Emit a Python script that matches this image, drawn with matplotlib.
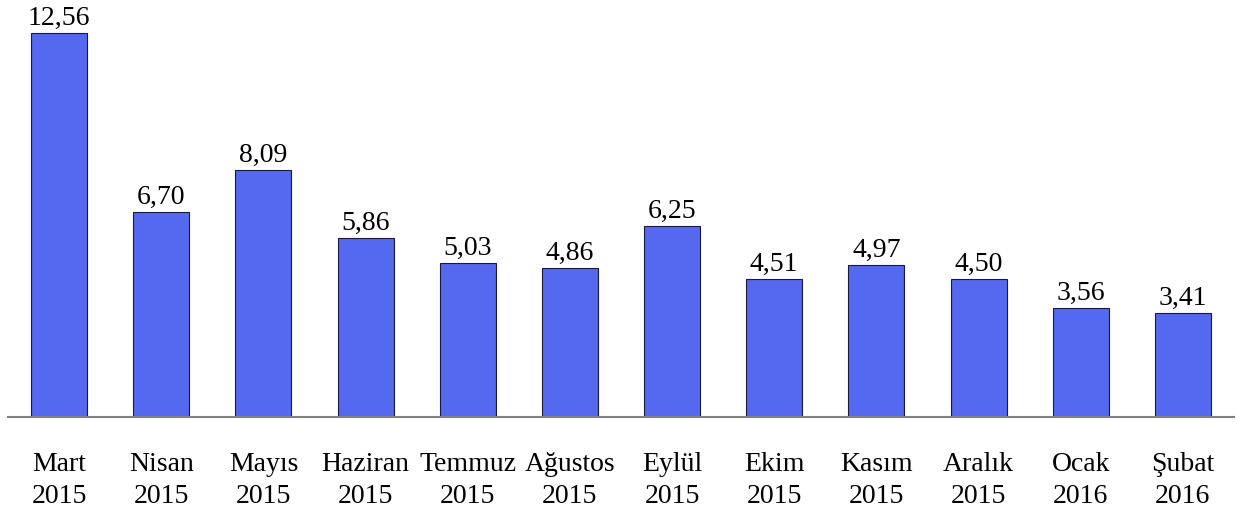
import matplotlib
matplotlib.use("Agg")
import matplotlib.pyplot as plt

months = ["Mart", "Nisan", "Mayıs", "Haziran", "Temmuz", "Ağustos", "Eylül",
          "Ekim", "Kasım", "Aralık", "Ocak", "Şubat"]
years = ["2015"] * 10 + ["2016", "2016"]
values = [12.56, 6.70, 8.09, 5.86, 5.03, 4.86, 6.25, 4.51, 4.97, 4.50, 3.56, 3.41]

plt.rcParams['font.family'] = ['Liberation Serif', 'DejaVu Serif']

fig = plt.figure(figsize=(12.43, 5.12), dpi=100)
ax = fig.add_axes([8/1243, 95/512, (1234-8)/1243, 417/512])

x = list(range(len(values)))
bars = ax.bar(x, values, width=0.548, color='#5468F0', edgecolor='#1a1a40', linewidth=0.8)

for xi, v in zip(x, values):
    ax.annotate(f"{v:.2f}".replace('.', ','), (xi, v), xytext=(0, 1.5),
                textcoords='offset points', ha='center', va='bottom', fontsize=20)

ax.set_xlim(-0.5, 11.5)
ax.set_ylim(0, 13.64)
ax.set_xticks(x)
ax.set_xticklabels([f"{m}\n{y}" for m, y in zip(months, years)], fontsize=20, linespacing=1.36)
ax.tick_params(axis='x', length=0, pad=25.5)
ax.set_yticks([])
for s in ['top', 'right', 'left']:
    ax.spines[s].set_visible(False)
ax.spines['bottom'].set_color('#808080')
ax.spines['bottom'].set_linewidth(1.5)

fig.savefig("out.png", dpi=100)
